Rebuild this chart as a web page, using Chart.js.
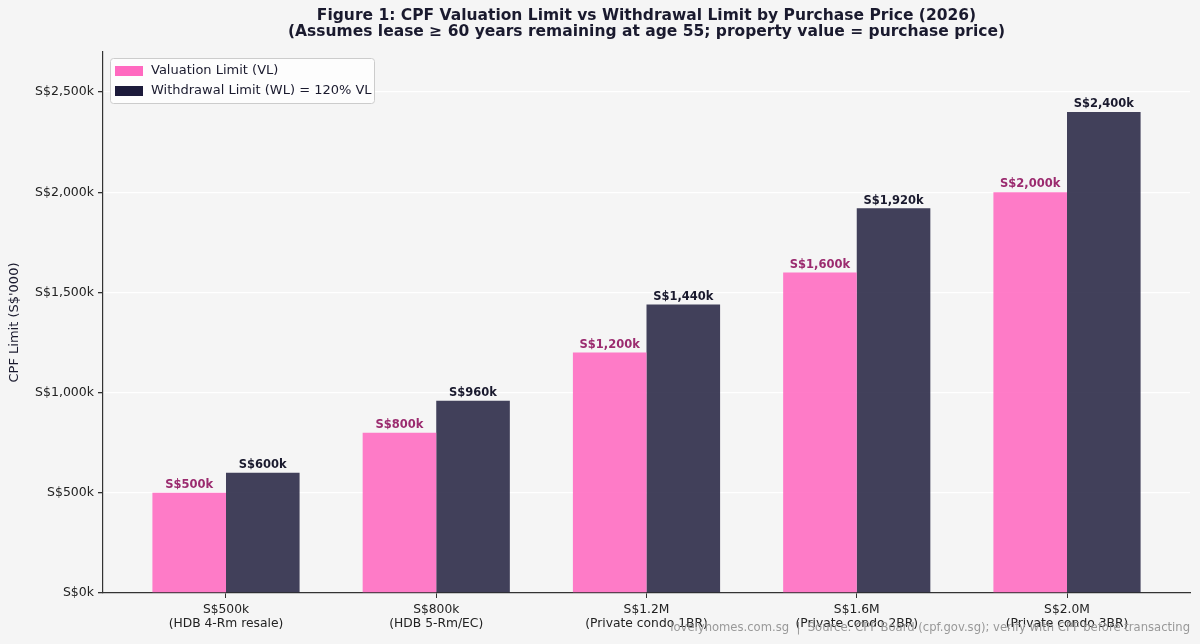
<!DOCTYPE html>
<html>
<head>
<meta charset="utf-8">
<script src="https://cdn.jsdelivr.net/npm/chart.js@4/dist/chart.umd.min.js"></script>
<style>
  html, body { margin: 0; padding: 0; background: #f5f5f5; }
  #wrap { width: 1200px; height: 644px; }
</style>
</head>
<body>
<div id="wrap"><canvas id="chart" width="1200" height="644"></canvas></div>
<script>
// data (S$'000)
const priceLabels = ['S$500k', 'S$800k', 'S$1.2M', 'S$1.6M', 'S$2.0M'];
const propertyTypes = ['(HDB 4-Rm resale)', '(HDB 5-Rm/EC)', '(Private condo 1BR)', '(Private condo 2BR)', '(Private condo 3BR)'];
const valuationLimit = [500, 800, 1200, 1600, 2000];
const withdrawalLimit = [600, 960, 1440, 1920, 2400];
const yTicks = [0, 500, 1000, 1500, 2000, 2500];

const titleLines = [
    'Figure 1: CPF Valuation Limit vs Withdrawal Limit by Purchase Price (2026)',
    '(Assumes lease \u2265 60 years remaining at age 55; property value = purchase price)'
];
const footerText = 'lovelyhomes.com.sg  |  Source: CPF Board (cpf.gov.sg); verify with CPF before transacting';

const FONT = "'DejaVu Sans', sans-serif";
const INK = '#1a1a2e';

const fmtK = v => 'S$' + v.toLocaleString('en-US') + 'k';

// ---- plugin: title, footer, legend box ----
const decorPlugin = {
    id: 'decor',
    afterDraw(chart) {
        const { ctx, chartArea } = chart;
        ctx.save();
        // title, centred over the plot area
        ctx.fillStyle = INK;
        ctx.font = 'bold 15.5px ' + FONT;
        ctx.textAlign = 'center';
        ctx.textBaseline = 'middle';
        const cx = (chartArea.left + chartArea.right) / 2;
        ctx.fillText(titleLines[0], cx, 16);
        ctx.fillText(titleLines[1], cx, 32);

        // footer
        ctx.fillStyle = '#999999';
        ctx.font = '11.6px ' + FONT;
        ctx.textAlign = 'right';
        ctx.fillText(footerText, chartArea.right, 628);

        // legend
        const lx = chartArea.left + 7, ly = chartArea.top + 6, lw = 264, lh = 45;
        ctx.fillStyle = 'rgba(255,255,255,0.8)';
        ctx.strokeStyle = '#cccccc';
        ctx.lineWidth = 1;
        ctx.beginPath();
        ctx.roundRect(lx + 0.5, ly + 0.5, lw, lh, 3);
        ctx.fill();
        ctx.stroke();
        ctx.font = '13px ' + FONT;
        ctx.textAlign = 'left';
        chart.data.datasets.forEach((ds, i) => {
            const y = ly + 13 + i * 20;
            ctx.fillStyle = ds.legendColor;
            ctx.fillRect(lx + 5, y - 5, 28, 10);
            ctx.fillStyle = INK;
            ctx.fillText(ds.label, lx + 41, y);
        });
        ctx.restore();
    }
};

// ---- plugin: value labels above bars ----
const barLabelPlugin = {
    id: 'barLabels',
    afterDatasetsDraw(chart) {
        const { ctx } = chart;
        ctx.save();
        ctx.font = 'bold 11.5px ' + FONT;
        ctx.textAlign = 'center';
        ctx.textBaseline = 'bottom';
        chart.data.datasets.forEach((ds, di) => {
            const meta = chart.getDatasetMeta(di);
            ctx.fillStyle = ds.valueColor;
            meta.data.forEach((bar, i) => {
                ctx.fillText(fmtK(ds.data[i].y), bar.x, bar.y - 2);
            });
        });
        ctx.restore();
    }
};

const toPoints = arr => arr.map((v, i) => ({ x: i, y: v }));

new Chart(document.getElementById('chart').getContext('2d'), {
    type: 'bar',
    data: {
        datasets: [
            {
                label: 'Valuation Limit (VL)',
                data: toPoints(valuationLimit),
                backgroundColor: 'rgba(255,105,192,0.87)',
                legendColor: '#ff69c0',
                valueColor: '#9b2b6f',
                borderWidth: 0
            },
            {
                label: 'Withdrawal Limit (WL) = 120% VL',
                data: toPoints(withdrawalLimit),
                backgroundColor: 'rgba(28,26,58,0.83)',
                legendColor: '#1c1a3a',
                valueColor: INK,
                borderWidth: 0
            }
        ]
    },
    options: {
        responsive: false,
        animation: false,
        categoryPercentage: 0.7,
        barPercentage: 1.0,
        layout: { padding: { top: 52, right: 10, left: 3, bottom: 0 } },
        scales: {
            x: {
                type: 'linear',
                offset: false,
                min: -0.585,
                max: 4.585,
                afterBuildTicks: axis => { axis.ticks = priceLabels.map((p, i) => ({ value: i })); },
                afterFit: axis => { axis.height = 51; },
                grid: { offset: false, drawOnChartArea: false, color: '#333333', tickColor: '#333333', tickLength: 5 },
                border: { color: '#333333', width: 1.2 },
                ticks: {
                    color: '#222222',
                    font: { family: FONT, size: 12.3 },
                    padding: 4,
                    maxRotation: 0,
                    autoSkip: false,
                    callback: v => Number.isInteger(v) ? [priceLabels[v], propertyTypes[v]] : ''
                }
            },
            y: {
                min: 0,
                max: 2700,
                afterBuildTicks: axis => { axis.ticks = yTicks.map(v => ({ value: v })); },
                afterFit: axis => { axis.width = 100; },
                grid: { color: '#ffffff', lineWidth: 1.3, tickColor: '#333333', tickLength: 5 },
                border: { color: '#333333', width: 1.2 },
                ticks: {
                    color: '#222222',
                    font: { family: FONT, size: 12.5 },
                    padding: 4,
                    callback: v => fmtK(v)
                },
                title: {
                    display: true,
                    text: "CPF Limit (S$'000)",
                    color: INK,
                    font: { family: FONT, size: 13 },
                    padding: { top: 4, bottom: 0 }
                }
            }
        },
        plugins: {
            legend: { display: false },
            tooltip: { enabled: false },
            title: { display: false }
        }
    },
    plugins: [barLabelPlugin, decorPlugin]
});
</script>
</body>
</html>
